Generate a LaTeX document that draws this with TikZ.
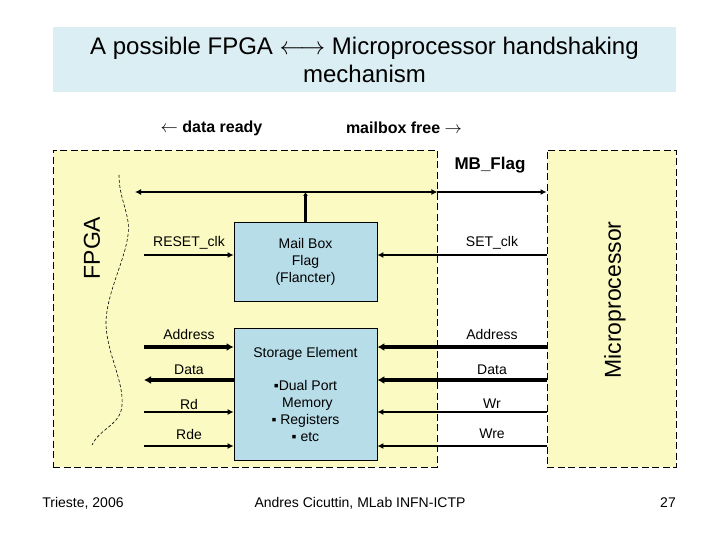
\documentclass[tikz,border=0pt]{standalone}
\usepackage{fontspec}
\setmainfont{Liberation Sans}
\usetikzlibrary{arrows.meta}

\definecolor{titlebg}{RGB}{219,238,243}
\definecolor{zonebg}{RGB}{250,250,194}
\definecolor{blockbg}{RGB}{183,221,232}

\begin{document}
\begin{tikzpicture}[x=1pt, y=-1pt,
    zone/.style={draw, fill=zonebg, line width=0.8pt, dash pattern=on 7pt off 3.5pt, minimum height=317pt, inner sep=0pt},
    block/.style={draw, fill=blockbg, line width=0.8pt, minimum width=143pt, inner sep=0pt, align=center, font=\fontsize{14}{17}\selectfont},
    lbl/.style={font=\fontsize{14}{17}\selectfont},
    sig/.style={-{Latex[length=6pt, width=6pt]}, line width=2.2pt},
    bus/.style={-{Latex[length=7pt, width=8pt]}, line width=4pt}
]
\useasboundingbox (0,0) rectangle (720,540);

% Title
\node[fill=titlebg, minimum width=623pt, minimum height=65pt, align=center, font=\fontsize{24}{28}\selectfont] (title) at (364.5,60)
    {A possible FPGA $\longleftrightarrow$ Microprocessor handshaking\\mechanism};

% Handshake hints
\node[font=\fontsize{16}{19}\selectfont\bfseries] (ready) at (211.5,128) {$\leftarrow$ data ready};
\node[font=\fontsize{16}{19}\selectfont\bfseries] (free) at (404,128) {mailbox free $\rightarrow$};

% Zones
\node[zone, minimum width=384pt] (fpga) at (245,308.5) {};
\node[zone, minimum width=129pt] (micro) at (611.5,308.5) {};
\node[rotate=90, font=\fontsize{23}{26}\selectfont] (fpgatxt) at (92,248) {FPGA};
\node[rotate=90, font=\fontsize{23}{26}\selectfont] (microtxt) at (615,300) {Microprocessor};

% FPGA edge
\draw[line width=0.6pt, dash pattern=on 3pt off 2pt] (119,175) .. controls (119,200) and (131,215) .. (128,235)
    .. controls (125,260) and (108,290) .. (106,320) .. controls (105,350) and (124,380) .. (122,405)
    .. controls (121,425) and (100,428) .. (92,445);

% Blocks
\node[block, minimum height=79pt] (mbflag) at (305.5,261.5) {Mail Box\\Flag\\(Flancter)};
\node[block, minimum height=132pt] (storage) at (305.5,394)
    {Storage Element\\[16pt]▪Dual Port\\\ Memory\\▪ Registers\\▪ etc};

% MB_Flag bus
\coordinate (busL) at (135,192);
\node[font=\fontsize{17}{20}\selectfont\bfseries] (mbtxt) at (490,165) {MB\_Flag};
\draw[-{Latex[length=4pt, width=5pt]}, line width=2.5pt] (mbflag.north) -- (mbflag.north |- busL);
\draw[-{Latex[length=6pt, width=6pt]}, line width=2.5pt] (mbflag.north |- busL) -- (busL);
\draw[-{Latex[length=6pt, width=6pt]}, line width=2.5pt] (mbflag.north |- busL) -- (busL -| fpga.east);
\draw[-{Latex[length=6pt, width=6pt]}, line width=2.5pt] (busL -| fpga.east) -- (busL -| micro.west);

% FPGA side signals
\coordinate (rstL) at (144,255);
\coordinate (adrL) at (144,347);
\coordinate (datL) at (144,380);
\coordinate (rdL) at (144,412);
\coordinate (rdeL) at (144,446);
\draw[sig] (rstL) -- (rstL -| mbflag.west);
\draw[bus] (adrL) -- (adrL -| storage.west);
\draw[bus] (datL -| storage.west) -- (datL);
\draw[sig] (rdL) -- (rdL -| storage.west);
\draw[sig] (rdeL) -- (rdeL -| storage.west);
\node[lbl] (rsttxt) at (189,243) {RESET\_clk};
\node[lbl] (adrtxt) at (189,334) {Address};
\node[lbl] (dattxt) at (189,370) {Data};
\node[lbl] (rdtxt) at (189,404) {Rd};
\node[lbl] (rdetxt) at (189,434) {Rde};

% Microprocessor side signals
\draw[sig] (rstL -| micro.west) -- (rstL -| mbflag.east);
\draw[bus] (adrL -| micro.west) -- (adrL -| storage.east);
\draw[bus] (datL -| micro.west) -- (datL -| storage.east);
\draw[sig] (rdL -| micro.west) -- (rdL -| storage.east);
\draw[sig] (rdeL -| micro.west) -- (rdeL -| storage.east);
\node[lbl] (settxt) at (492,243) {SET\_clk};
\node[lbl] (adrtxt2) at (492,334) {Address};
\node[lbl] (dattxt2) at (492,370) {Data};
\node[lbl] (wrtxt) at (492,404) {Wr};
\node[lbl] (wretxt) at (492,434) {Wre};

% Footer
\node[lbl] (place) at (83,503) {Trieste, 2006};
\node[lbl] (author) at (360,503) {Andres Cicuttin, MLab INFN-ICTP};
\node[lbl] (page) at (668,503) {27};

\end{tikzpicture}
\end{document}
